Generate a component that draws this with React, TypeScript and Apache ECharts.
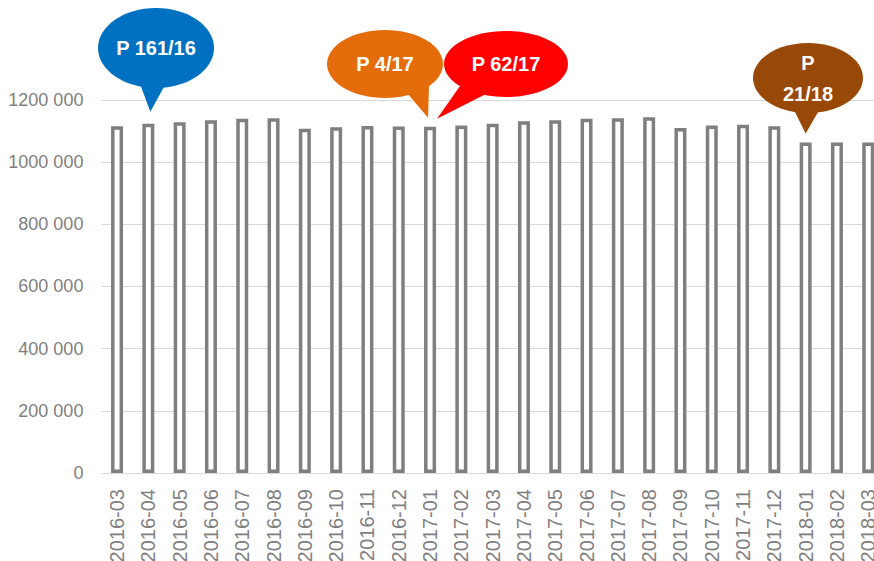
import React, { useEffect, useRef } from "react";
import * as echarts from "echarts";

const categories = [
  "2016-03", "2016-04", "2016-05", "2016-06", "2016-07", "2016-08", "2016-09",
  "2016-10", "2016-11", "2016-12", "2017-01", "2017-02", "2017-03", "2017-04",
  "2017-05", "2017-06", "2017-07", "2017-08", "2017-09", "2017-10", "2017-11",
  "2017-12", "2018-01", "2018-02", "2018-03",
];

const values = [
  1115000, 1123000, 1128000, 1134000, 1139000, 1141000, 1107000,
  1112000, 1116000, 1114000, 1113000, 1117000, 1123000, 1131000,
  1134000, 1139000, 1141000, 1144000, 1109000, 1117000, 1120000,
  1115000, 1063000, 1063000, 1063000,
];

const yTicks = [0, 200000, 400000, 600000, 800000, 1000000, 1200000];

const calloutLabels = ["P 161/16", "P 4/17", "P 62/17", "P\n21/18"];
const calloutCategories = ["2016-04", "2017-01", "2017-01", "2018-01"];
const calloutColors = ["#0070C0", "#E46C0A", "#FF0000", "#984807"];

// layout of the speech bubbles (annotation placement only)
const calloutLayout = [
  { cx: 156, cy: 48, rx: 58, ry: 40, base: [[140, 84], [165, 85]], dx: 2, gap: 12 },
  { cx: 385, cy: 64, rx: 58, ry: 34, base: [[407, 93], [429, 86]], dx: -2, gap: 9 },
  { cx: 506, cy: 64, rx: 62, ry: 33, base: [[460, 86], [486, 94]], dx: 7, gap: 8 },
  { cx: 808, cy: 78, rx: 55, ry: 35, base: [[793, 108], [821, 107]], dx: 0, gap: 9 },
];

const FONT = "'Liberation Sans', Arial, sans-serif";

function fmt(v: number): string {
  if (v === 0) return "0";
  const th = Math.floor(v / 1000);
  const rest = String(v % 1000).padStart(3, "0");
  return th + " " + rest;
}

export default function App() {
  const ref = useRef<HTMLDivElement>(null);

  useEffect(() => {
    if (!ref.current) return;
    const chart = echarts.init(ref.current, undefined, { renderer: "svg" });
    chart.setOption({
      animation: false,
      backgroundColor: "#ffffff",
      grid: {
        left: 101.4,
        top: 99.8,
        width: 782.5,
        height: 373.2,
        containLabel: false,
        outerBoundsMode: "none",
      },
      xAxis: {
        type: "category",
        data: categories,
        axisLine: { show: true, lineStyle: { color: "#d9d9d9", width: 1 } },
        axisTick: { show: false },
        axisLabel: {
          rotate: 90,
          margin: 16,
          color: "#7f7f7f",
          fontSize: 20,
          fontFamily: FONT,
          interval: 0,
        },
      },
      yAxis: {
        type: "value",
        min: yTicks[0],
        max: yTicks[yTicks.length - 1],
        interval: yTicks[1] - yTicks[0],
        axisLine: { show: false },
        axisTick: { show: false },
        splitLine: { lineStyle: { color: "#d9d9d9", width: 1 } },
        axisLabel: {
          margin: 18,
          color: "#7f7f7f",
          fontSize: 18,
          fontFamily: FONT,
          formatter: (v: number) => fmt(v),
        },
      },
      series: [
        {
          type: "bar",
          data: values,
          barWidth: 12,
          itemStyle: { color: "#ffffff", borderColor: "#7f7f7f", borderWidth: 3.5 },
        },
      ],
    });

    const graphics: any[] = [];
    calloutLabels.forEach((label, i) => {
      const idx = categories.indexOf(calloutCategories[i]);
      const p = chart.convertToPixel({ xAxisIndex: 0, yAxisIndex: 0 }, [idx, values[idx]]) as number[];
      const L = calloutLayout[i];
      const tip = [p[0] + L.dx, p[1] - L.gap];
      const color = calloutColors[i];
      graphics.push({
        type: "polygon",
        shape: { points: [L.base[0], L.base[1], tip] },
        style: { fill: color },
        z: 100 + i * 3,
      });
      graphics.push({
        type: "ellipse",
        shape: { cx: L.cx, cy: L.cy, rx: L.rx, ry: L.ry },
        style: { fill: color },
        z: 101 + i * 3,
      });
      graphics.push({
        type: "text",
        x: L.cx,
        y: L.cy,
        style: {
          text: label,
          fill: "#ffffff",
          fontSize: 20,
          fontWeight: "bold",
          fontFamily: FONT,
          align: "center",
          verticalAlign: "middle",
          lineHeight: 31,
        },
        z: 102 + i * 3,
      });
    });
    chart.setOption({ graphic: graphics });

    return () => chart.dispose();
  }, []);

  return (
    <div style={{ position: "fixed", left: 0, top: 0, width: 874, height: 561, overflow: "hidden" }}>
      <div ref={ref} style={{ width: 900, height: 561 }} />
    </div>
  );
}
